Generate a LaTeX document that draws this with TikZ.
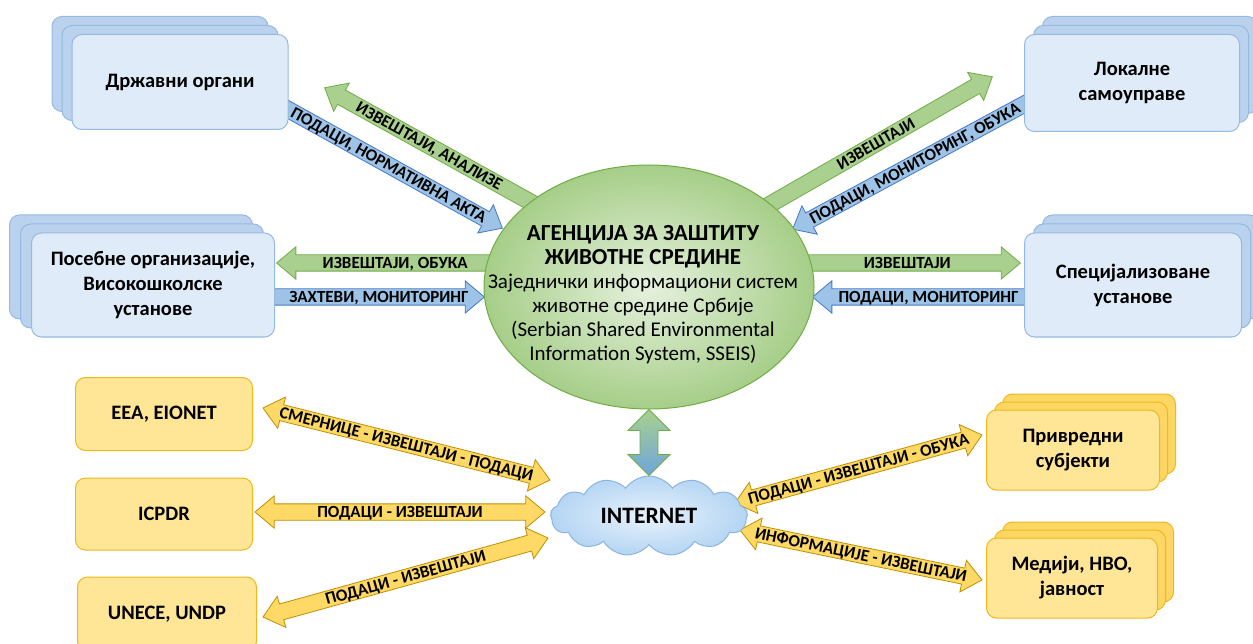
\documentclass[tikz,border=0pt]{standalone}
\usepackage{fontspec}
\setmainfont{Carlito}
\usetikzlibrary{calc,shapes.geometric,shapes.arrows,shapes.symbols,shadows}

\definecolor{boxblue}{RGB}{223,235,248}
\definecolor{boxblueback}{RGB}{186,210,238}
\definecolor{boxblueline}{RGB}{150,185,225}
\definecolor{boxyellow}{RGB}{255,229,150}
\definecolor{boxyellowback}{RGB}{253,214,100}
\definecolor{boxyellowline}{RGB}{240,184,30}
\definecolor{arrgreen}{RGB}{169,208,142}
\definecolor{arrgreenline}{RGB}{112,173,71}
\definecolor{arrblue}{RGB}{157,195,230}
\definecolor{arrblueline}{RGB}{70,120,200}
\definecolor{arryellow}{RGB}{255,217,102}
\definecolor{arryellowline}{RGB}{191,144,0}
\definecolor{elinner}{RGB}{230,241,222}
\definecolor{elouter}{RGB}{166,206,136}
\definecolor{cloudin}{RGB}{232,242,252}
\definecolor{cloudout}{RGB}{180,213,243}
\definecolor{cloudline}{RGB}{140,180,222}
\definecolor{linkblue}{RGB}{110,165,220}

\tikzset{
  bluebox/.style={draw=boxblueline, fill=boxblue, line width=1pt, rounded corners=10pt,
    align=center, inner sep=2pt, font=\fontsize{20.5}{25}\selectfont\bfseries},
  yellowbox/.style={draw=boxyellowline, fill=boxyellow, line width=1pt, rounded corners=10pt,
    align=center, inner sep=2pt, font=\fontsize{20.5}{25}\selectfont\bfseries},
  stack/.style 2 args={copy shadow={shadow xshift=2*#1, shadow yshift=2*#2, fill=boxblueback},
    copy shadow={shadow xshift=#1, shadow yshift=#2, fill=boxblueback}},
  ystack/.style 2 args={copy shadow={shadow xshift=2*#1, shadow yshift=2*#2, fill=boxyellowback},
    copy shadow={shadow xshift=#1, shadow yshift=#2, fill=boxyellowback}},
  fatarr/.style={single arrow, single arrow head extend=8pt, single arrow tip angle=80,
    single arrow head indent=0pt, inner xsep=0pt, inner ysep=7.75pt, text height=0pt,
    text depth=0pt, line width=0.8pt},
  greenarr/.style={fatarr, fill=arrgreen, draw=arrgreenline},
  bluearr/.style={fatarr, fill=arrblue, draw=arrblueline},
  yellowarr/.style={double arrow, double arrow head extend=8pt, double arrow tip angle=80,
    double arrow head indent=0pt, inner xsep=0pt, inner ysep=7.75pt, text height=0pt,
    text depth=0pt, line width=0.8pt, fill=arryellow, draw=arryellowline},
  arrlabel/.style={inner sep=0pt, text height=11pt, text depth=0pt,
    font=\fontsize{17}{17}\selectfont\bfseries},
}

% style, tail, tip, label position, text
\newcommand{\fatarrow}[5][]{%
  \path let \p1=($(#3)-(#2)$), \n1={atan2(\y1,\x1)}, \n2={veclen(\x1,\y1)} in
    node[#1, anchor=tail, minimum height=\n2, rotate=\n1] at (#2) {}
    node[arrlabel, rotate={\n1-180*(abs(\n1)>90)}] at ($(#2)!#4!(#3)$) {#5};}
% left end, right end, text
\newcommand{\dblarrow}[3]{%
  \path let \p1=($(#2)-(#1)$), \n1={atan2(\y1,\x1)}, \n2={veclen(\x1,\y1)} in
    node[yellowarr, minimum height=\n2, rotate=\n1] at ($(#1)!0.5!(#2)$) {}
    node[arrlabel, rotate=\n1] at ($(#1)!0.5!(#2)$) {#3};}

\begin{document}
\begin{tikzpicture}[x=1pt, y=-1pt]
	\useasboundingbox (0,0) rectangle (1253,644);
	\clip (0,0) rectangle (1253,644);
	\fill[white] (0,0) rectangle (1253,644);
	\path
	%	arrows round the agency
	(552,214) coordinate (gnw0)  (325,88)  coordinate (gnw1)
	(280,105) coordinate (bnw0)  (502,228) coordinate (bnw1)
	(755,213) coordinate (gne0)  (992,77)  coordinate (gne1)
	(1032,100) coordinate (bne0) (793,229) coordinate (bne1)
	(500,263) coordinate (gw0)   (277,263) coordinate (gw1)
	(265,297) coordinate (bw0)   (484,297) coordinate (bw1)
	(790,263) coordinate (ge0)   (1020,263) coordinate (ge1)
	(1035,297) coordinate (be0)  (813,297) coordinate (be1)
	%	arrows round the internet
	(263,408) coordinate (y1a)   (550,480) coordinate (y1b)
	(255,512) coordinate (y2a)   (545,512) coordinate (y2b)
	(263,617) coordinate (y3a)   (548,538) coordinate (y3b)
	(735,503) coordinate (y4a)   (982,435) coordinate (y4b)
	(740,530) coordinate (y5a)   (982,580) coordinate (y5b)
	;
	\fatarrow[greenarr]{gnw0}{gnw1}{0.54}{ИЗВЕШТАЈИ, АНАЛИЗЕ}
	\fatarrow[bluearr]{bnw0}{bnw1}{0.49}{ПОДАЦИ, НОРМАТИВНА АКТА}
	\fatarrow[greenarr]{gne0}{gne1}{0.51}{ИЗВЕШТАЈИ}
	\fatarrow[bluearr]{bne0}{bne1}{0.49}{ПОДАЦИ, МОНИТОРИНГ, ОБУКА}
	\fatarrow[greenarr]{gw0}{gw1}{0.47}{ИЗВЕШТАЈИ, ОБУКА}
	\fatarrow[bluearr]{bw0}{bw1}{0.52}{ЗАХТЕВИ, МОНИТОРИНГ}
	\fatarrow[greenarr]{ge0}{ge1}{0.51}{ИЗВЕШТАЈИ}
	\fatarrow[bluearr]{be0}{be1}{0.48}{ПОДАЦИ, МОНИТОРИНГ}

	\dblarrow{y1a}{y1b}{СМЕРНИЦЕ - ИЗВЕШТАЈИ - ПОДАЦИ}
	\dblarrow{y2a}{y2b}{ПОДАЦИ - ИЗВЕШТАЈИ}
	\dblarrow{y3a}{y3b}{ПОДАЦИ - ИЗВЕШТАЈИ}
	\dblarrow{y4a}{y4b}{ПОДАЦИ - ИЗВЕШТАЈИ - ОБУКА}
	\dblarrow{y5a}{y5b}{ИНФОРМАЦИЈЕ - ИЗВЕШТАЈИ}

	%	institutions
	\node[bluebox, stack={-10pt}{9pt}, minimum width=216pt, minimum height=95pt]
		(drzavni) at (180,82) {Државни органи};
	\node[bluebox, stack={9pt}{9pt}, minimum width=215pt, minimum height=97pt]
		(lokalne) at (1132,83) {Локалне\\самоуправе};
	\node[bluebox, stack={-11pt}{9pt}, minimum width=243pt, minimum height=104pt]
		(posebne) at (153,285) {Посебне организације,\\Високошколске\\установе};
	\node[bluebox, stack={9pt}{9pt}, minimum width=217pt, minimum height=104pt]
		(special) at (1133,285) {Специјализоване\\установе};

	\node[yellowbox, minimum width=177pt, minimum height=73pt] (eea) at (164,414) {EEA, EIONET};
	\node[yellowbox, minimum width=177pt, minimum height=72pt] (icpdr) at (164,514) {ICPDR};
	\node[yellowbox, minimum width=179pt, minimum height=74pt] (unece) at (167,614) {UNECE, UNDP};
	\node[yellowbox, ystack={8pt}{8pt}, minimum width=173pt, minimum height=80pt]
		(privredni) at (1073,450) {Привредни\\субјекти};
	\node[yellowbox, ystack={8pt}{8pt}, minimum width=171pt, minimum height=80pt]
		(mediji) at (1072,578) {Медији, НВО,\\јавност};

	%	agency and internet
	\node[ellipse, draw=arrgreenline, line width=1pt, inner color=elinner, outer color=elouter,
		minimum width=330pt, minimum height=244pt, inner sep=0pt] (agencija) at (649,287) {};
	\node[align=center, font=\fontsize{21}{24}\selectfont] (agtext) at (643,295)
		{{\fontsize{23}{24}\selectfont\bfseries АГЕНЦИЈА ЗА ЗАШТИТУ}\\
		{\fontsize{23}{24}\selectfont\bfseries ЖИВОТНЕ СРЕДИНЕ}\\Заједнички информациони систем\\
		животне средине Србије\\(Serbian Shared Environmental\\Information System, SSEIS)};
	\node[cloud, cloud puffs=13, cloud puff arc=110, cloud ignores aspect, draw=cloudline,
		line width=1pt, inner color=cloudin, outer color=cloudout, minimum width=197pt,
		minimum height=80pt, font=\fontsize{23.5}{24}\selectfont\bfseries] (internet) at (649,516)
		{INTERNET};
	\shadedraw[top color=arrgreen, bottom color=linkblue, draw=arrgreenline, line width=0.8pt]
		(agencija.south) -- ++(21,21) -- ++(-12,0) -- ($(internet.north)+(9,-21)$) -- ++(12,0)
		-- (internet.north) -- ++(-21,-21) -- ++(12,0) -- ($(agencija.south)+(-9,21)$)
		-- ++(-12,0) -- cycle;
\end{tikzpicture}
\end{document}
